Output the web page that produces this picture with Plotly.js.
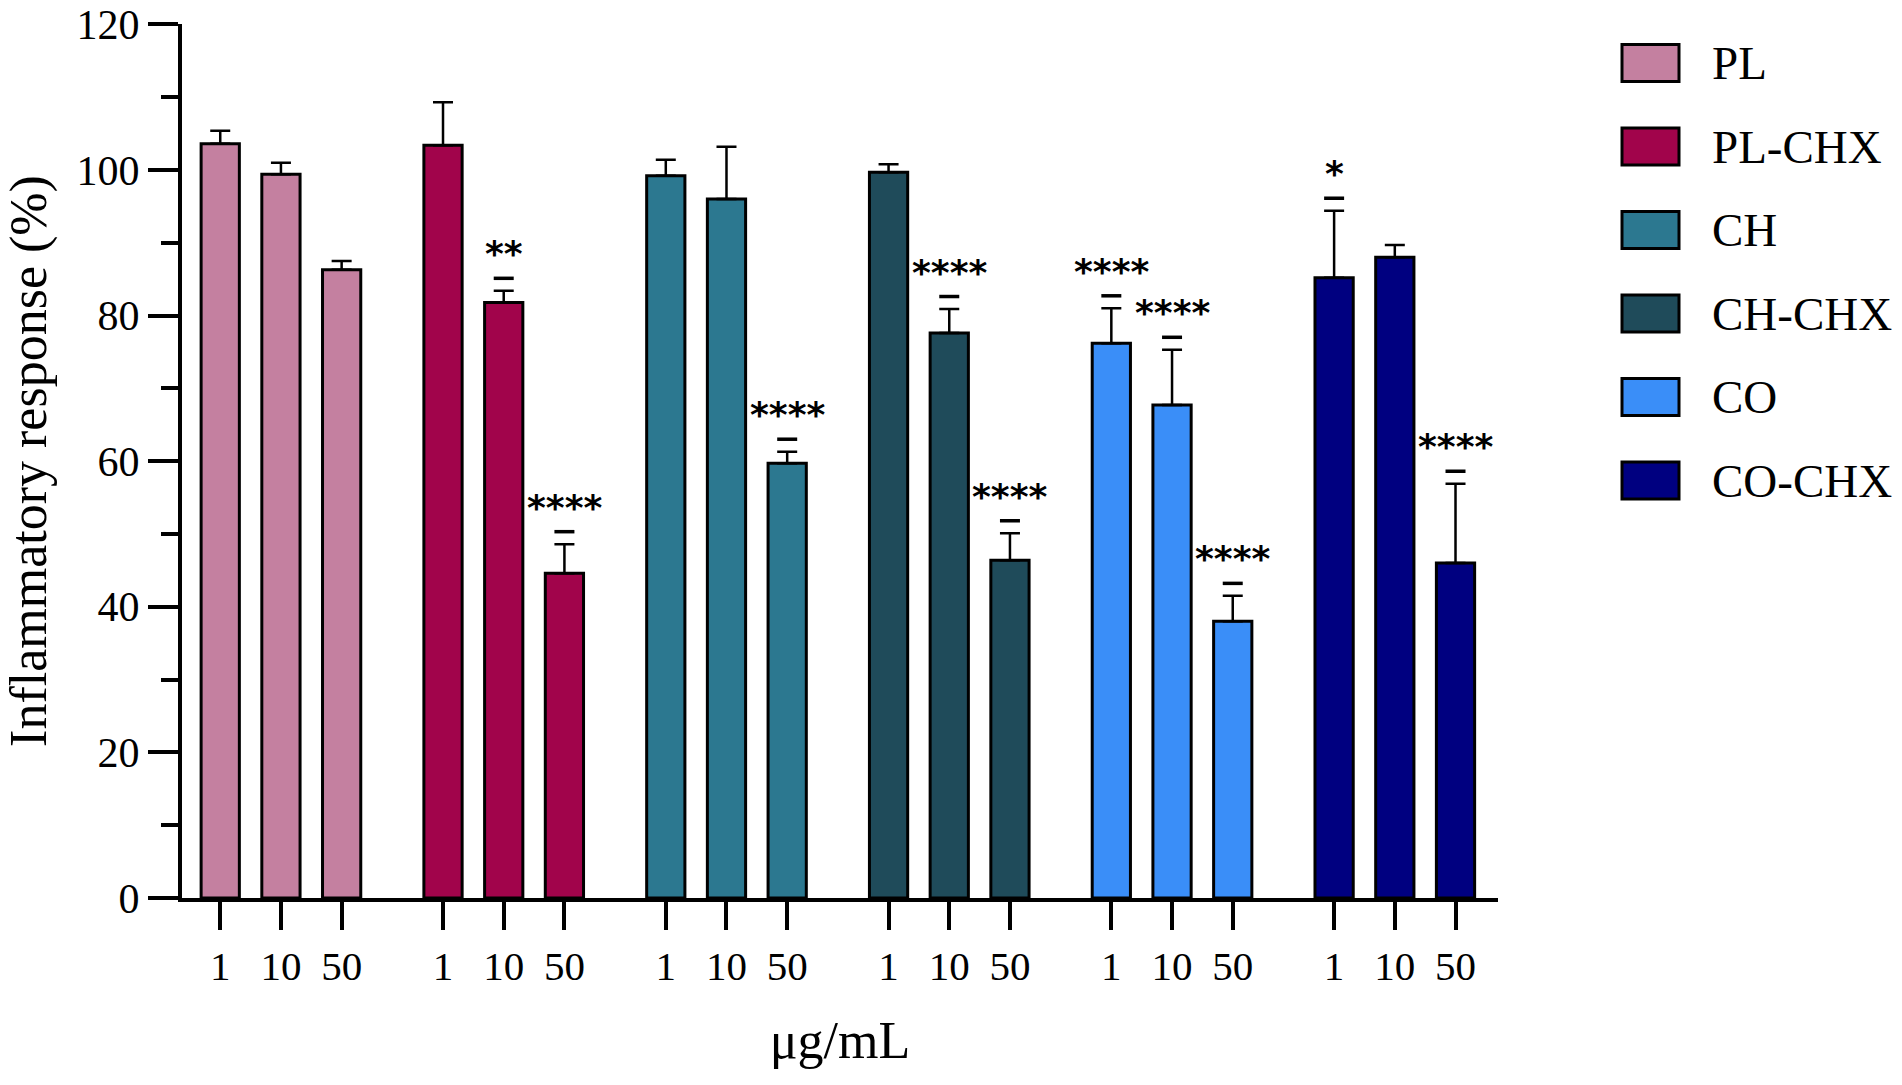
<!DOCTYPE html>
<html>
<head>
<meta charset="utf-8">
<script src="https://cdn.plot.ly/plotly-3.0.1.min.js"></script>
<style>
  html, body { margin: 0; padding: 0; background: #ffffff; }
  #chart { width: 1902px; height: 1085px; }
</style>
</head>
<body>
<div id="chart"></div>
<script>
// ---- data ----
const concentrations = ["1", "10", "50"];
const seriesNames = ["PL", "PL-CHX", "CH", "CH-CHX", "CO", "CO-CHX"];
const yTickVals = [0, 20, 40, 60, 80, 100, 120];

const PL_mean     = [103.6, 99.4, 86.3];
const PL_sd       = [1.8, 1.6, 1.2];
const PLCHX_mean  = [103.4, 81.8, 44.6];
const PLCHX_sd    = [5.9, 1.6, 4.0];
const CH_mean     = [99.2, 96.0, 59.7];
const CH_sd       = [2.2, 7.2, 1.6];
const CHCHX_mean  = [99.7, 77.6, 46.4];
const CHCHX_sd    = [1.1, 3.3, 3.7];
const CO_mean     = [76.2, 67.7, 38.0];
const CO_sd       = [4.8, 7.6, 3.5];
const COCHX_mean  = [85.2, 88.0, 46.0];
const COCHX_sd    = [9.2, 1.7, 10.9];

const PL_sig    = ["", "", ""];
const PLCHX_sig = ["", "**", "****"];
const CH_sig    = ["", "", "****"];
const CHCHX_sig = ["", "****", "****"];
const CO_sig    = ["****", "****", "****"];
const COCHX_sig = ["*", "", "****"];

const seriesColors = ["#C480A0", "#A1044B", "#2C7890", "#1F4B5A", "#3A8EF8", "#000080"];

// ---- build ----
const means = [PL_mean, PLCHX_mean, CH_mean, CHCHX_mean, CO_mean, COCHX_mean];
const sds   = [PL_sd, PLCHX_sd, CH_sd, CHCHX_sd, CO_sd, COCHX_sd];
const sigs  = [PL_sig, PLCHX_sig, CH_sig, CHCHX_sig, CO_sig, COCHX_sig];

const groupStep = 3.67;
const FONT = "Liberation Serif, Times New Roman, serif";

const traces = [];
const annotations = [];
const shapes = [];
const tickvals = [];
const ticktext = [];

seriesNames.forEach((name, g) => {
  const xs = concentrations.map((c, i) => g * groupStep + i);
  xs.forEach((x, i) => { tickvals.push(x); ticktext.push(concentrations[i]); });
  traces.push({
    type: "bar",
    name: name,
    x: xs,
    y: means[g],
    width: 0.63,
    marker: { color: seriesColors[g], line: { color: "#000000", width: 3 } },
    error_y: {
      type: "data", symmetric: false,
      array: sds[g], arrayminus: sds[g].map(() => 0),
      color: "#000000", thickness: 2.5, width: 10
    },
    showlegend: false,
    hoverinfo: "x+y"
  });
  sigs[g].forEach((s, i) => {
    if (!s) return;
    const top = means[g][i] + sds[g][i];
    shapes.push({
      type: "line", xref: "x", yref: "y",
      xsizemode: "pixel", xanchor: xs[i], x0: -10, x1: 10,
      ysizemode: "pixel", yanchor: top, y0: 12.5, y1: 12.5,
      line: { color: "#000000", width: 3.5 }
    });
    annotations.push({
      xref: "x", yref: "y", x: xs[i], y: top,
      text: s, showarrow: false, yanchor: "middle", xanchor: "center",
      yshift: 37,
      font: { family: "DejaVu Sans, sans-serif", size: 36, color: "#000000", weight: "bold" }
    });
  });
});

// custom legend (large swatches)
const W = 1902, H = 1085;
const mL = 182, mR = 404, mT = 24, mB = 187;
const pw = W - mL - mR, ph = H - mT - mB;
const px2paperX = p => (p - mL) / pw;
const px2paperY = p => (H - mB - p) / ph;
seriesNames.forEach((name, g) => {
  const cy = 63 + g * 83.5;
  shapes.push({
    type: "rect", xref: "paper", yref: "paper",
    x0: px2paperX(1622), x1: px2paperX(1679),
    y0: px2paperY(cy - 18.5), y1: px2paperY(cy + 18.5),
    fillcolor: seriesColors[g], line: { color: "#000000", width: 3 }
  });
  annotations.push({
    xref: "paper", yref: "paper", x: px2paperX(1710), y: px2paperY(cy),
    xanchor: "left", yanchor: "middle", showarrow: false,
    text: name, font: { family: FONT, size: 47, color: "#000000" }
  });
});

const layout = {
  width: W, height: H,
  margin: { l: mL, r: mR, t: mT, b: mB, pad: 0 },
  paper_bgcolor: "#ffffff", plot_bgcolor: "#ffffff",
  showlegend: false,
  bargap: 0,
  xaxis: {
    range: [-0.63, 21.05],
    tickmode: "array", tickvals: tickvals, ticktext: ticktext,
    showgrid: false, zeroline: false,
    showline: true, linecolor: "#000000", linewidth: 4,
    ticks: "outside", ticklen: 28, tickwidth: 4, tickcolor: "#000000",
    ticklabelstandoff: 1,
    tickfont: { family: FONT, size: 41, color: "#000000" },
    title: { text: "μg/mL", standoff: 34, font: { family: FONT, size: 52, color: "#000000" } },
    fixedrange: true
  },
  yaxis: {
    range: [0, 120.05],
    tickmode: "array", tickvals: yTickVals, ticktext: yTickVals.map(String),
    ticklabeloverflow: "allow",
    showgrid: false, zeroline: false,
    showline: true, linecolor: "#000000", linewidth: 4,
    ticks: "outside", ticklen: 30, tickwidth: 4, tickcolor: "#000000",
    ticklabelstandoff: 0,
    minor: { tickvals: [10, 30, 50, 70, 90, 110], ticks: "outside", ticklen: 17, tickwidth: 4, tickcolor: "#000000", showgrid: false },
    tickfont: { family: FONT, size: 42, color: "#000000" },
    title: { text: "Inflammatory response (%)", standoff: 23, font: { family: FONT, size: 52, color: "#000000" } },
    fixedrange: true
  },
  shapes: shapes,
  annotations: annotations
};

Plotly.newPlot("chart", traces, layout, { displayModeBar: false, staticPlot: true });
</script>
</body>
</html>
